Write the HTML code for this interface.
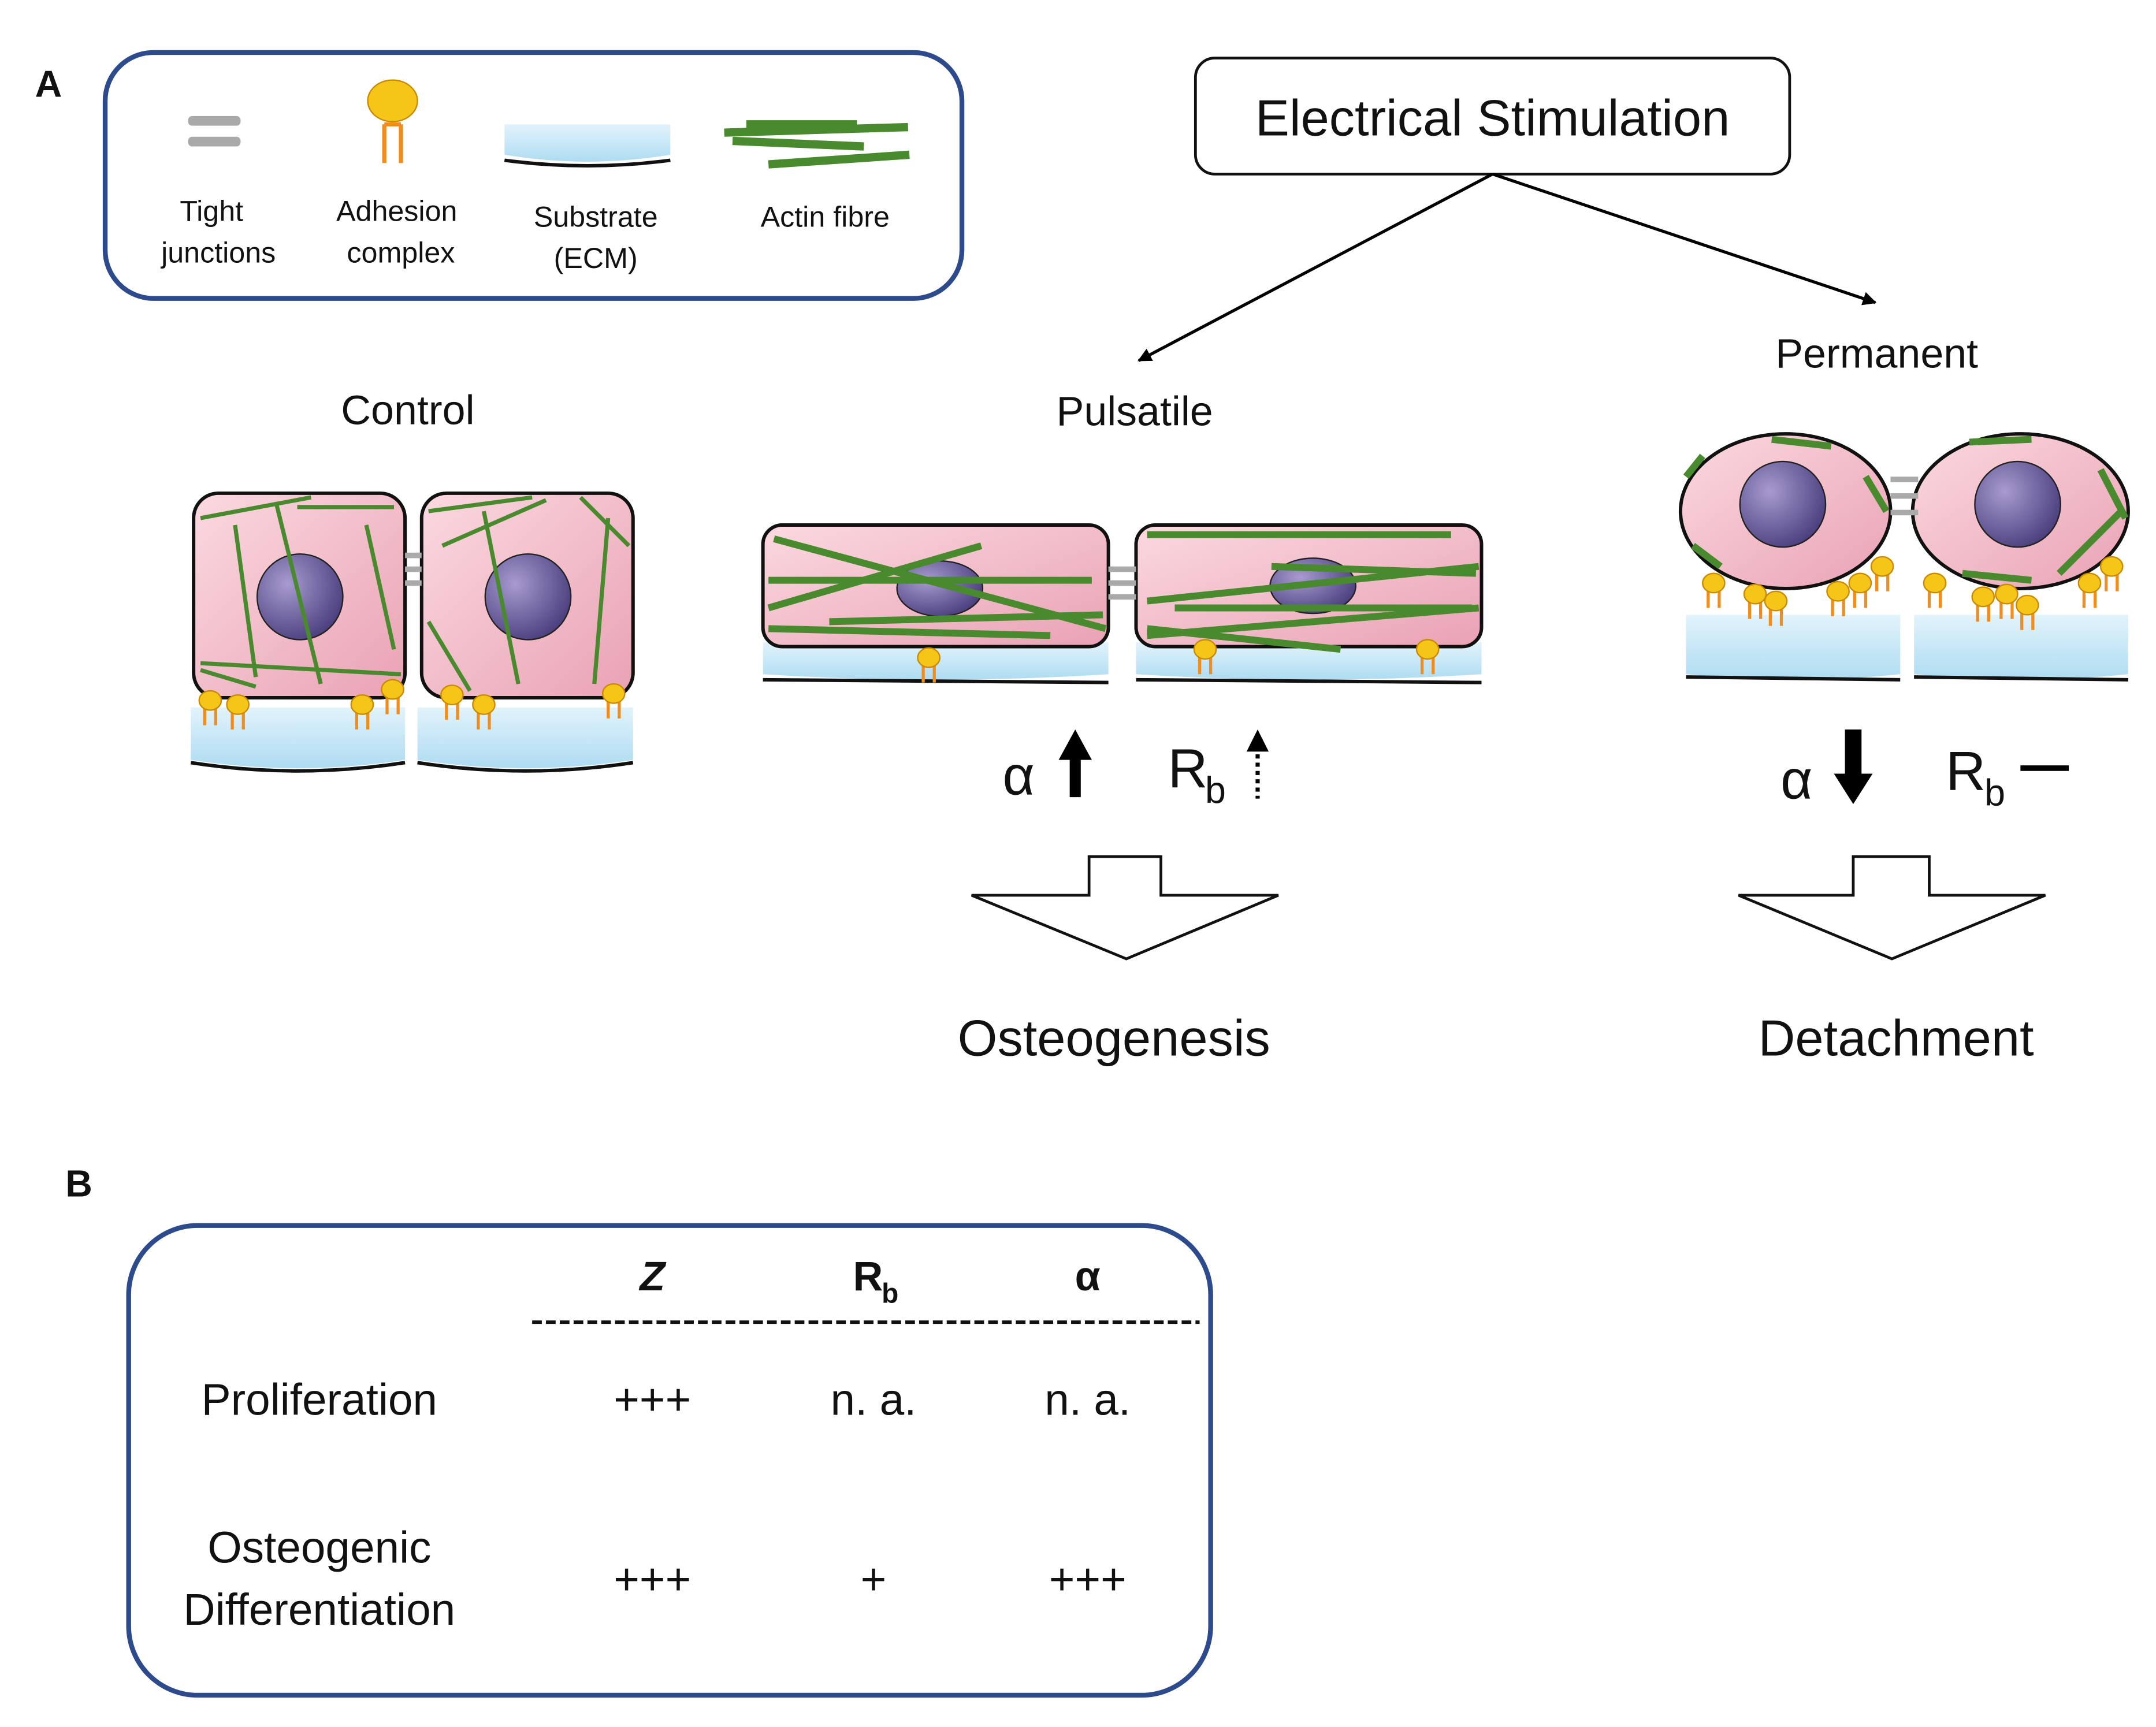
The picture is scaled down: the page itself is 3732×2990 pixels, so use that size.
<!DOCTYPE html>
<html><head><meta charset="utf-8"><style>
html,body{margin:0;padding:0;background:#fff}
svg{display:block}
text{font-family:"Liberation Sans","DejaVu Sans",sans-serif;fill:#111}
</style></head><body>
<svg width="3732" height="2990" viewBox="0 0 1560 1250" xmlns="http://www.w3.org/2000/svg">
<defs>
<marker id="ah" markerWidth="10" markerHeight="10" refX="9" refY="5" orient="auto" markerUnits="userSpaceOnUse"><path d="M0,0 L10,5 L0,10 z" fill="#000"/></marker>
<linearGradient id="cell" x1="0" y1="0" x2="1" y2="1"><stop offset="0" stop-color="#fbd9e0"/><stop offset="1" stop-color="#e9a2b4"/></linearGradient>
<radialGradient id="nuc" cx="0.35" cy="0.35" r="0.7"><stop offset="0" stop-color="#a79bd0"/><stop offset="1" stop-color="#4c3f7e"/></radialGradient>
<linearGradient id="sub" x1="0" y1="0" x2="0" y2="1"><stop offset="0" stop-color="#e2f3fb"/><stop offset="1" stop-color="#aedcf2"/></linearGradient>
<g id="adh"><path d="M-4,4 v14 M4,4 v14 M-4,4 h8" stroke="#f28c1a" stroke-width="2.2" fill="none"/><ellipse cx="0" cy="0" rx="8" ry="7" fill="#f5c518" stroke="#c98a00" stroke-width="1"/></g>
</defs>

<text x="35" y="70" font-size="27" font-weight="bold" text-anchor="middle">A</text>
<rect x="76" y="38" width="620" height="178" rx="35" fill="none" stroke="#2c4a8c" stroke-width="3.5"/>
<rect x="136" y="84" width="38" height="7" rx="3" fill="#a9a9a9"/>
<rect x="136" y="99" width="38" height="7" rx="3" fill="#a9a9a9"/>
<path d="M278,90 v28 M290,90 v28 M278,90 h12" stroke="#f28c1a" stroke-width="3" fill="none"/>
<ellipse cx="284" cy="73" rx="18" ry="15" fill="#f5c518" stroke="#c98a00"/>
<path d="M365,90 L485,90 L485,112 Q425,122 365,112 Z" fill="url(#sub)"/>
<path d="M365,116 Q425,124 485,116" stroke="#111" stroke-width="2.5" fill="none"/>
<g stroke="#4a8a2e" stroke-width="6"><line x1="540" y1="90" x2="620" y2="90"/><line x1="524" y1="96" x2="657" y2="92"/><line x1="530" y1="102" x2="625" y2="106"/><line x1="556" y1="119" x2="658" y2="112"/></g>
<g font-size="21" text-anchor="middle">
<text x="153" y="160">Tight</text><text x="158" y="190">junctions</text>
<text x="287" y="160">Adhesion</text><text x="290" y="190">complex</text>
<text x="431" y="164">Substrate</text><text x="431" y="194">(ECM)</text>
<text x="597" y="164">Actin fibre</text>
</g>

<rect x="865" y="42" width="430" height="84" rx="14" fill="#fff" stroke="#111" stroke-width="2"/>
<text x="1080" y="98" font-size="37" text-anchor="middle">Electrical Stimulation</text>
<line x1="1080" y1="126" x2="824" y2="261" stroke="#000" stroke-width="2.2" marker-end="url(#ah)"/>
<line x1="1080" y1="126" x2="1357" y2="219" stroke="#000" stroke-width="2.2" marker-end="url(#ah)"/>
<text x="1358" y="266" font-size="30" text-anchor="middle">Permanent</text>
<text x="821" y="308" font-size="30" text-anchor="middle">Pulsatile</text>
<text x="295" y="307" font-size="30" text-anchor="middle">Control</text>

<!-- Control -->
<g>
<path d="M138,512 H293 V550 Q215,562 138,550 Z" fill="url(#sub)"/><path d="M138,552 Q215,564 293,552" stroke="#111" stroke-width="2.5" fill="none"/>
<path d="M302,512 H458 V550 Q380,562 302,550 Z" fill="url(#sub)"/><path d="M302,552 Q380,564 458,552" stroke="#111" stroke-width="2.5" fill="none"/>
<rect x="140" y="357" width="153" height="148" rx="18" fill="url(#cell)" stroke="#111" stroke-width="2.5"/>
<rect x="305" y="357" width="153" height="148" rx="18" fill="url(#cell)" stroke="#111" stroke-width="2.5"/>
<rect x="293" y="400" width="12" height="4" fill="#aaa"/><rect x="293" y="410" width="12" height="4" fill="#aaa"/><rect x="293" y="420" width="12" height="4" fill="#aaa"/>
<circle cx="217" cy="432" r="31" fill="url(#nuc)" stroke="#222"/><circle cx="382" cy="432" r="31" fill="url(#nuc)" stroke="#222"/>
<g stroke="#4a8a2e" stroke-width="3"><line x1="145" y1="375" x2="225" y2="360"/><line x1="170" y1="380" x2="185" y2="490"/><line x1="200" y1="365" x2="232" y2="495"/><line x1="145" y1="480" x2="290" y2="488"/><line x1="265" y1="380" x2="285" y2="470"/><line x1="215" y1="367" x2="285" y2="367"/><line x1="145" y1="485" x2="185" y2="497"/>
<line x1="310" y1="370" x2="385" y2="360"/><line x1="310" y1="450" x2="340" y2="500"/><line x1="350" y1="370" x2="375" y2="495"/><line x1="420" y1="360" x2="455" y2="395"/><line x1="440" y1="375" x2="430" y2="495"/><line x1="320" y1="395" x2="395" y2="362"/></g>
<use href="#adh" x="152" y="507"/><use href="#adh" x="172" y="510"/><use href="#adh" x="262" y="510"/><use href="#adh" x="284" y="499"/>
<use href="#adh" x="327" y="503"/><use href="#adh" x="350" y="510"/><use href="#adh" x="444" y="502"/>
</g>

<!-- Pulsatile -->
<g>
<path d="M552,465 H802 V488 Q677,496 552,488 Z" fill="url(#sub)"/><line x1="552" y1="492" x2="802" y2="494" stroke="#111" stroke-width="2.5"/>
<path d="M822,465 H1072 V488 Q947,496 822,488 Z" fill="url(#sub)"/><line x1="822" y1="492" x2="1072" y2="494" stroke="#111" stroke-width="2.5"/>
<rect x="552" y="380" width="250" height="88" rx="14" fill="url(#cell)" stroke="#111" stroke-width="2.5"/>
<rect x="822" y="380" width="250" height="88" rx="14" fill="url(#cell)" stroke="#111" stroke-width="2.5"/>
<rect x="802" y="410" width="20" height="4" fill="#aaa"/><rect x="802" y="420" width="20" height="4" fill="#aaa"/><rect x="802" y="430" width="20" height="4" fill="#aaa"/>
<ellipse cx="680" cy="426" rx="31" ry="20" fill="url(#nuc)" stroke="#222"/><ellipse cx="950" cy="424" rx="31" ry="20" fill="url(#nuc)" stroke="#222"/>
<g stroke="#4a8a2e" stroke-width="5"><line x1="560" y1="390" x2="800" y2="455"/><line x1="556" y1="440" x2="710" y2="395"/><line x1="556" y1="420" x2="790" y2="420"/><line x1="600" y1="450" x2="798" y2="445"/><line x1="556" y1="455" x2="760" y2="460"/>
<line x1="830" y1="387" x2="1050" y2="387"/><line x1="830" y1="435" x2="1070" y2="410"/><line x1="830" y1="460" x2="1070" y2="440"/><line x1="920" y1="410" x2="1068" y2="415"/><line x1="830" y1="455" x2="970" y2="470"/><line x1="850" y1="440" x2="1065" y2="440"/></g>
<use href="#adh" x="672" y="476"/><use href="#adh" x="872" y="470"/><use href="#adh" x="1033" y="470"/>
</g>

<!-- Permanent -->
<g>
<path d="M1220,445 H1375 V488 Q1297,496 1220,488 Z" fill="url(#sub)"/><line x1="1220" y1="490" x2="1375" y2="492" stroke="#111" stroke-width="2.5"/>
<path d="M1385,445 H1540 V488 Q1462,496 1385,488 Z" fill="url(#sub)"/><line x1="1385" y1="490" x2="1540" y2="492" stroke="#111" stroke-width="2.5"/>
<ellipse cx="1292" cy="370" rx="76" ry="56" fill="url(#cell)" stroke="#111" stroke-width="2.5"/>
<ellipse cx="1462" cy="370" rx="78" ry="56" fill="url(#cell)" stroke="#111" stroke-width="2.5"/>
<rect x="1368" y="345" width="20" height="4" fill="#aaa"/><rect x="1368" y="357" width="20" height="4" fill="#aaa"/><rect x="1368" y="369" width="20" height="4" fill="#aaa"/>
<circle cx="1290" cy="365" r="31" fill="url(#nuc)" stroke="#222"/><circle cx="1460" cy="365" r="31" fill="url(#nuc)" stroke="#222"/>
<g stroke="#4a8a2e" stroke-width="5"><line x1="1282" y1="318" x2="1325" y2="323"/><line x1="1220" y1="345" x2="1232" y2="330"/><line x1="1225" y1="395" x2="1245" y2="410"/><line x1="1350" y1="345" x2="1365" y2="370"/>
<line x1="1425" y1="320" x2="1470" y2="318"/><line x1="1520" y1="340" x2="1538" y2="375"/><line x1="1490" y1="415" x2="1535" y2="370"/><line x1="1420" y1="415" x2="1470" y2="420"/></g>
<use href="#adh" x="1240" y="422"/><use href="#adh" x="1270" y="430"/><use href="#adh" x="1285" y="435"/><use href="#adh" x="1330" y="428"/><use href="#adh" x="1346" y="422"/><use href="#adh" x="1362" y="410"/>
<use href="#adh" x="1400" y="422"/><use href="#adh" x="1435" y="432"/><use href="#adh" x="1452" y="430"/><use href="#adh" x="1467" y="438"/><use href="#adh" x="1512" y="422"/><use href="#adh" x="1528" y="410"/>
</g>

<!-- alpha/Rb -->
<text x="737" y="575" font-size="40" text-anchor="middle">α</text>
<path d="M778,528 L790,550 H782 V577 H774 V550 H766 Z" fill="#000"/>
<text x="845" y="570" font-size="40">R</text><text x="872" y="581" font-size="27">b</text>
<path d="M910,528 L918,544 H902 Z" fill="#000"/><line x1="910" y1="546" x2="910" y2="578" stroke="#000" stroke-width="3" stroke-dasharray="3,3"/>
<text x="1300" y="578" font-size="40" text-anchor="middle">α</text>
<path d="M1335,528 H1347 V560 H1355 L1341,582 L1327,560 H1335 Z" fill="#000"/>
<text x="1408" y="572" font-size="40">R</text><text x="1436" y="583" font-size="27">b</text>
<line x1="1462" y1="556" x2="1497" y2="556" stroke="#000" stroke-width="4"/>

<path d="M788,620 H840 V648 H925 L815,694 L703,648 H788 Z" fill="#fff" stroke="#111" stroke-width="2"/>
<path d="M1341,620 H1396 V648 H1480 L1369,694 L1258,648 H1341 Z" fill="#fff" stroke="#111" stroke-width="2"/>
<text x="806" y="764" font-size="37" text-anchor="middle">Osteogenesis</text>
<text x="1372" y="764" font-size="37" text-anchor="middle">Detachment</text>

<text x="57" y="866" font-size="27" font-weight="bold" text-anchor="middle">B</text>
<rect x="93" y="887" width="783" height="340" rx="50" fill="none" stroke="#2c4a8c" stroke-width="3.5"/>
<text x="472" y="934" font-size="30" font-style="italic" font-weight="bold" text-anchor="middle">Z</text>
<text x="628" y="934" font-size="30" font-weight="bold" text-anchor="middle">R</text><text x="644" y="943" font-size="20" font-weight="bold" text-anchor="middle">b</text>
<text x="787" y="934" font-size="30" font-weight="bold" text-anchor="middle">α</text>
<line x1="385" y1="957" x2="868" y2="957" stroke="#111" stroke-width="2.5" stroke-dasharray="7,3"/>
<g font-size="32" text-anchor="middle">
<text x="231" y="1024">Proliferation</text>
<text x="472" y="1024">+++</text><text x="632" y="1024">n. a.</text><text x="787" y="1024">n. a.</text>
<text x="231" y="1131">Osteogenic</text><text x="231" y="1176">Differentiation</text>
<text x="472" y="1154">+++</text><text x="632" y="1154">+</text><text x="787" y="1154">+++</text>
</g>
</svg>
</body></html>
